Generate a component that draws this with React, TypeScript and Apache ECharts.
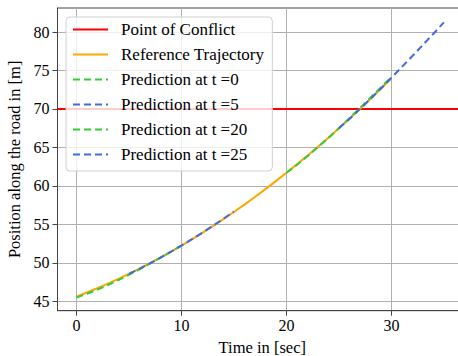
import React, { useEffect, useRef } from "react";
import * as echarts from "echarts";

const FONT = "Liberation Serif";

// Reference trajectory (t = 0..30 s)
const refTimes = [0, 1, 2, 3, 4, 5, 6, 7, 8, 9, 10, 11, 12, 13, 14, 15, 16, 17, 18, 19, 20, 21, 22, 23, 24, 25, 26, 27, 28, 29, 30];
const refPos = [45.6, 46.14, 46.7, 47.29, 47.92, 48.56, 49.24, 49.95, 50.68, 51.44, 52.23, 53.05, 53.9, 54.78, 55.68, 56.61, 57.57, 58.56, 59.58, 60.62, 61.7, 62.8, 63.93, 65.09, 66.27, 67.49, 68.73, 70.0, 71.3, 72.63, 73.99];

// Predictions
const pred0Times = [0, 1, 2, 3, 4, 5, 6, 7, 8, 9, 10];
const pred0Pos = [45.5, 45.98, 46.52, 47.12, 47.76, 48.44, 49.15, 49.89, 50.66, 51.45, 52.25];
const pred5Times = [5, 6, 7, 8, 9, 10, 11, 12, 13, 14, 15];
const pred5Pos = [48.56, 49.22, 49.93, 50.67, 51.44, 52.24, 53.07, 53.93, 54.82, 55.73, 56.67];
const pred20Times = [20, 21, 22, 23, 24, 25, 26, 27, 28, 29, 30];
const pred20Pos = [61.7, 62.72, 63.86, 65.04, 66.24, 67.5, 68.8, 70.12, 71.45, 72.8, 74.15];
const pred25Times = [25, 26, 27, 28, 29, 30, 31, 32, 33, 34, 35];
const pred25Pos = [67.49, 68.7, 69.98, 71.3, 72.66, 74.05, 75.46, 76.88, 78.32, 79.78, 81.25];

const conflictPos = 70;

const xTicks = [0, 10, 20, 30];
const yTicks = [45, 50, 55, 60, 65, 70, 75, 80];
const xRange = [-1.8, 37.2];
const yRange = [43.78, 83.12];

const zip = (a: number[], b: number[]) => a.map((v, i) => [v, b[i]]);

export default function App() {
  const ref = useRef<HTMLDivElement>(null);
  useEffect(() => {
    if (!ref.current) return;
    const chart = echarts.init(ref.current, undefined, { renderer: "svg" });
    const axisCommon = {
      axisLine: { show: true, onZero: false, lineStyle: { color: "#444", width: 1 } },
      axisTick: { show: true, inside: false, length: 5, lineStyle: { color: "#444", width: 1 } },
      splitLine: { show: true, lineStyle: { color: "#b0b0b0", width: 1 } },
      nameLocation: "middle" as const,
      nameTextStyle: { fontFamily: FONT, fontSize: 16.5, color: "#000" },
    };
    const labelStyle = {
      fontFamily: FONT,
      fontSize: 16,
      color: "#000",
      showMinLabel: false,
      showMaxLabel: false,
    };
    const dashed = (name: string, color: string, data: number[][]) => ({
      name,
      type: "line",
      data,
      showSymbol: false,
      symbol: "none",
      color,
      lineStyle: { color, width: 2, type: [7, 4] },
      z: 4,
    });
    chart.setOption({
      animation: false,
      textStyle: { fontFamily: FONT },
      grid: {
        left: 57.5,
        top: 8,
        right: -9,
        bottom: 45.3,
        outerBoundsMode: "none",
        containLabel: false,
        show: true,
        borderColor: "#444",
        borderWidth: 1,
        backgroundColor: "transparent",
      },
      xAxis: {
        type: "value",
        min: xRange[0],
        max: xRange[1],
        splitNumber: 5,
        name: "Time in [sec]",
        nameGap: 23,
        ...axisCommon,
        axisTick: { ...axisCommon.axisTick, customValues: xTicks },
        axisLabel: { margin: 7, ...labelStyle },
      },
      yAxis: {
        type: "value",
        min: yRange[0],
        max: yRange[1],
        splitNumber: 8,
        name: "Position along the road in [m]",
        nameGap: 28,
        ...axisCommon,
        axisTick: { ...axisCommon.axisTick, customValues: yTicks },
        axisLabel: { margin: 8, ...labelStyle },
      },
      legend: {
        orient: "vertical",
        left: 66,
        top: 17,
        z: 20,
        padding: [4, 8, 8, 6],
        itemGap: 8,
        itemWidth: 35,
        itemHeight: 14,
        itemStyle: { opacity: 0 },
        backgroundColor: "rgba(255,255,255,0.8)",
        borderColor: "#d0d0d0",
        borderWidth: 1,
        borderRadius: 4,
        textStyle: { fontFamily: FONT, fontSize: 17, color: "#000", lineHeight: 17, padding: [0, 0, 0, 8] },
        data: [
          "Point of Conflict",
          "Reference Trajectory",
          "Prediction at t =0",
          "Prediction at t =5",
          "Prediction at t =20",
          "Prediction at t =25",
        ],
      },
      series: [
        {
          name: "Point of Conflict",
          type: "line",
          data: [
            [xRange[0], conflictPos],
            [xRange[1], conflictPos],
          ],
          showSymbol: false,
          symbol: "none",
          color: "#ff0000",
          lineStyle: { color: "#ff0000", width: 2, type: "solid" },
          z: 2,
        },
        {
          name: "Reference Trajectory",
          type: "line",
          data: zip(refTimes, refPos),
          showSymbol: false,
          symbol: "none",
          color: "#ffa500",
          lineStyle: { color: "#ffa500", width: 2, type: "solid" },
          z: 3,
        },
        dashed("Prediction at t =0", "#32cd32", zip(pred0Times, pred0Pos)),
        dashed("Prediction at t =5", "#4169e1", zip(pred5Times, pred5Pos)),
        dashed("Prediction at t =20", "#32cd32", zip(pred20Times, pred20Pos)),
        dashed("Prediction at t =25", "#4169e1", zip(pred25Times, pred25Pos)),
      ],
    });
    return () => chart.dispose();
  }, []);
  return (
    <div
      ref={ref}
      style={{ position: "absolute", left: 0, top: 0, width: 458, height: 356, background: "#fff" }}
    />
  );
}
